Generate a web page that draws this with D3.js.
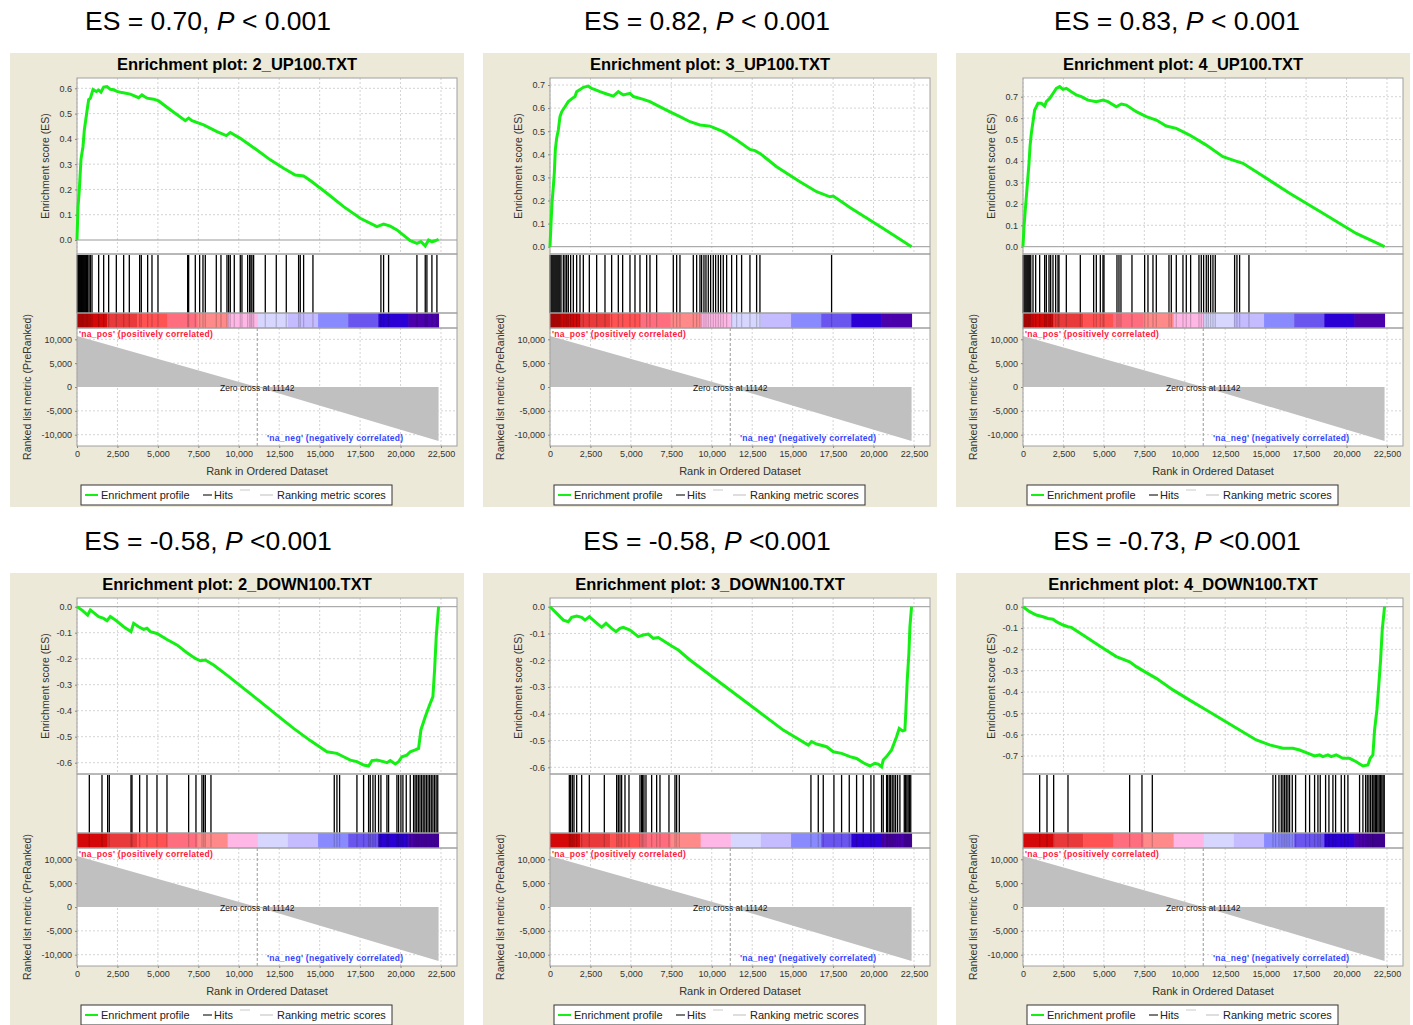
<!DOCTYPE html>
<html>
<head>
<meta charset="utf-8">
<script src="https://cdn.jsdelivr.net/npm/d3@7"></script>
<style>
  body { margin: 0; background: #fff; }
  text { font-family: "Liberation Sans", Arial, sans-serif; }
</style>
</head>
<body>
<script>
"use strict";

// ---- data ----
var headerEs = ["0.70", "0.82", "0.83", "-0.58", "-0.58", "-0.73"];
var headerP = ["< 0.001", "< 0.001", "< 0.001", "<0.001", "<0.001", "<0.001"];
var titles = ["2_UP100.TXT", "3_UP100.TXT", "4_UP100.TXT", "2_DOWN100.TXT", "3_DOWN100.TXT", "4_DOWN100.TXT"];

var esUp2 = [[0,0],[62,0.13],[144,0.20],[247,0.32],[371,0.37],[453,0.435],[618,0.51],[721,0.555],[824,0.56],[989,0.595],
  [1195,0.587],[1339,0.593],[1483,0.585],[1648,0.605],[1854,0.607],[2060,0.596],[2266,0.594],[2472,0.588],[2781,0.583],
  [3296,0.577],[3811,0.563],[4017,0.574],[4326,0.561],[4738,0.557],[5047,0.55],[5768,0.515],[6695,0.472],[6901,0.482],
  [7107,0.472],[7828,0.455],[8652,0.429],[9229,0.413],[9476,0.425],[10094,0.402],[11124,0.356],[11948,0.317],[12772,0.284],
  [13493,0.257],[14008,0.253],[14420,0.235],[15450,0.185],[16480,0.132],[17510,0.086],[18540,0.053],[18952,0.063],
  [19364,0.055],[19776,0.04],[20600,-0.003],[21012,-0.013],[21259,-0.006],[21527,-0.024],[21733,0.0],[21939,-0.007],
  [22145,-0.003],[22351,0.003]];
var esUp3 = [[0,0],[62,0.10],[124,0.19],[206,0.26],[268,0.32],[330,0.42],[412,0.47],[515,0.505],[618,0.563],[721,0.584],
  [927,0.606],[1133,0.628],[1339,0.64],[1545,0.65],[1648,0.671],[1854,0.68],[2060,0.69],[2369,0.695],[2575,0.685],
  [2781,0.68],[3090,0.671],[3502,0.661],[3914,0.652],[4223,0.671],[4532,0.657],[4944,0.664],[5150,0.65],[5768,0.638],
  [6180,0.628],[6592,0.613],[7416,0.584],[8034,0.563],[8652,0.541],[9270,0.527],[9888,0.522],[10712,0.498],[11536,0.462],
  [12360,0.421],[12669,0.416],[12978,0.404],[14008,0.346],[15450,0.281],[16480,0.238],[17304,0.216],[17510,0.219],
  [18540,0.17],[20600,0.079],[22351,0]];
var esUp4 = [[0,0],[62,0.093],[124,0.155],[206,0.233],[288,0.311],[371,0.389],[433,0.467],[515,0.529],[618,0.583],
  [721,0.638],[824,0.653],[927,0.669],[1133,0.669],[1339,0.656],[1442,0.677],[1648,0.692],[1854,0.715],[2060,0.739],
  [2266,0.747],[2472,0.734],[2678,0.739],[2987,0.723],[3296,0.708],[3605,0.70],[4017,0.684],[4532,0.677],[4944,0.684],
  [5253,0.677],[5768,0.653],[6077,0.666],[6386,0.661],[7004,0.63],[7622,0.607],[8240,0.591],[8858,0.563],[9476,0.552],
  [10300,0.521],[11330,0.474],[12360,0.42],[12978,0.404],[13596,0.389],[14420,0.35],[16480,0.249],[18540,0.156],
  [20600,0.062],[22351,0]];
var esDown2 = [[0,0],[309,-0.013],[659,-0.032],[824,-0.013],[1030,-0.023],[1339,-0.038],[1648,-0.045],[1854,-0.054],
  [2060,-0.038],[2369,-0.051],[2884,-0.077],[3337,-0.096],[3502,-0.064],[3811,-0.077],[4120,-0.087],[4326,-0.083],
  [4532,-0.096],[4944,-0.103],[5562,-0.126],[6180,-0.147],[6798,-0.177],[7313,-0.199],[7622,-0.208],[7931,-0.205],
  [8446,-0.224],[9270,-0.263],[10300,-0.314],[11330,-0.365],[12360,-0.417],[13390,-0.468],[14420,-0.515],[15450,-0.558],
  [16068,-0.564],[16480,-0.577],[16892,-0.59],[17304,-0.596],[17716,-0.609],[18025,-0.613],[18231,-0.592],[18540,-0.59],
  [18952,-0.596],[19158,-0.6],[19364,-0.592],[19673,-0.605],[19879,-0.596],[20085,-0.577],[20394,-0.571],[20600,-0.558],
  [20909,-0.551],[21115,-0.545],[21259,-0.474],[21527,-0.423],[21795,-0.378],[22001,-0.346],[22104,-0.244],
  [22207,-0.115],[22351,0]];
var esDown3 = [[0,0],[412,-0.025],[824,-0.05],[1133,-0.056],[1339,-0.04],[1648,-0.035],[1957,-0.04],[2163,-0.05],
  [2431,-0.037],[2781,-0.056],[3193,-0.077],[3461,-0.062],[3811,-0.081],[4079,-0.093],[4326,-0.081],[4532,-0.077],
  [4944,-0.087],[5459,-0.112],[5768,-0.106],[6077,-0.102],[6386,-0.118],[6695,-0.115],[7107,-0.131],[7519,-0.147],
  [7931,-0.162],[8652,-0.199],[10300,-0.274],[12360,-0.367],[14420,-0.461],[15965,-0.517],[16171,-0.504],[16480,-0.513],
  [17098,-0.523],[17510,-0.542],[18025,-0.548],[18540,-0.56],[18952,-0.567],[19364,-0.583],[19776,-0.595],[20085,-0.585],
  [20291,-0.588],[20497,-0.598],[20600,-0.573],[20806,-0.56],[21115,-0.535],[21424,-0.486],[21589,-0.455],[21795,-0.464],
  [21939,-0.461],[22001,-0.386],[22083,-0.274],[22186,-0.174],[22248,-0.075],[22351,0]];
var esDown4 = [[0,0],[412,-0.023],[824,-0.039],[1236,-0.047],[1545,-0.055],[1854,-0.059],[2060,-0.07],[2472,-0.086],
  [2781,-0.094],[2987,-0.097],[3708,-0.133],[4738,-0.184],[5768,-0.234],[6592,-0.258],[7004,-0.281],[7622,-0.309],
  [8240,-0.336],[9270,-0.39],[10300,-0.438],[11330,-0.484],[12360,-0.531],[13390,-0.578],[14420,-0.625],[15244,-0.648],
  [16068,-0.664],[16686,-0.664],[17098,-0.672],[17510,-0.684],[18025,-0.70],[18334,-0.695],[18540,-0.703],[18849,-0.695],
  [19055,-0.703],[19364,-0.695],[19776,-0.711],[20188,-0.711],[20600,-0.727],[21012,-0.747],[21321,-0.742],[21465,-0.711],
  [21630,-0.695],[21733,-0.578],[21877,-0.484],[22001,-0.359],[22104,-0.25],[22207,-0.109],[22351,0]];

var hitsUp2 = [21,82,144,206,268,330,391,453,536,597,659,742,824,927,1339,1648,1957,2431,2884,3234,3873,3976,4367,4635,
  5006,6839,6901,7313,7581,7787,7931,8611,8899,9270,9373,9476,9723,10094,10197,10547,10671,10753,10815,10918,11639,
  12319,12937,13699,13802,14008,14585,18787,18952,19261,21012,21527,21630,21939,22248];
var hitsUp3 = [10,70,130,190,250,310,370,430,490,550,610,680,824,927,1030,1133,1277,1442,1648,1854,2060,2431,2884,3399,
  3811,4223,4491,4944,5253,5562,5974,6180,6592,7622,7828,8034,8858,9064,9270,9373,9517,9641,9785,9929,10094,10238,10403,
  10547,10712,10918,11227,11536,11845,12360,12772,12978,17407];
var hitsUp4 = [10,60,120,180,240,300,360,420,480,618,783,1030,1339,1442,1607,1710,1854,2019,2163,2225,2678,3543,4367,
  4532,4779,4944,5006,5809,5933,6056,6736,7519,7725,8034,8240,9023,9167,9476,9888,10094,10362,10877,11021,11165,11330,
  11454,11598,11742,11886,13081,13225,13390,13967];
var hitsDown2 = [762,1545,1895,1998,3337,3399,3873,4326,4944,5562,6901,7354,7725,7828,7931,8281,15903,16068,16233,17304,
  17716,18025,18128,18293,18437,18643,18787,19158,19261,19776,19879,20023,20147,20353,20600,20806,20900,21000,21100,
  21200,21300,21400,21500,21600,21700,21800,21900,22000,22100,22200,22300];
var hitsDown3 = [1195,1277,1380,1483,1648,1957,2431,3358,4120,4223,4326,4429,4635,4882,5562,5665,5727,5809,5933,6283,
  6592,6798,7354,7725,7828,7993,16130,16583,16892,17551,18025,18499,18952,19364,19838,20023,20497,20600,20806,20868,
  20971,21053,21156,21259,21362,21486,21630,21900,21980,22060,22140,22220,22300];
var hitsDown4 = [1030,1483,1895,2781,6592,7354,7993,15450,15615,15821,15965,16068,16171,16274,16377,16480,16645,16851,
  17469,17716,18025,18231,18375,18705,18911,19158,19323,19673,19879,20085,20806,21012,21177,21280,21383,21486,21589,
  21630,21700,21780,21860,21940,22020,22100,22180,22260,22330];

var esTickMin = [0, 0, 0, -0.6, -0.6, -0.7];
var esTickMax = [0.6, 0.7, 0.7, 0, 0, 0];

var metricRanks = [0, 11142, 22350];
var metricValues = [10700, 0, -11300];
var zeroCross = 11142;
var rankTicks = [0, 2500, 5000, 7500, 10000, 12500, 15000, 17500, 20000, 22500];
var metricTicks = [10000, 5000, 0, -5000, -10000];
var heatColors = ["#d40808", "#e83a3a", "#ff5252", "#ff6e7e", "#ff8a8a", "#ffb8e6",
                  "#d6d6ff", "#c4bcff", "#8a8aff", "#6a55ee", "#2a00d4", "#4a00aa"];

var esSeries = [esUp2, esUp3, esUp4, esDown2, esDown3, esDown4];
var hitSeries = [hitsUp2, hitsUp3, hitsUp4, hitsDown2, hitsDown3, hitsDown4];

// ---- layout ----
var panelX = [10, 483, 956];
var panelY = [53, 573];
var headerCx = [208, 707, 1177];
var PW = 454, PH = 454;
var L = 67, R = 447;
var esTop = 25, esBot = 201, hitBot = 260, heatBot = 275, metBot = 393;

// pixel rows of the 0 tick and the outer tick in each ES panel
var esPx = [ [187, 35.3], [193.7, 32], [193.7, 43.7], [33.7, 189.7], [33.7, 194.3], [33.7, 183] ];

// plain hyphen instead of the unicode minus, like the java plot
function hy(f) { return function(d) { return f(d).replace("\u2212", "-"); }; }

var svg = d3.select("body").append("svg")
  .attr("width", 1413).attr("height", 1025);

var x = d3.scaleLinear().domain([0, 23490]).range([L, R]);
var yM = d3.scaleLinear().domain([-12370, 12370]).range([metBot, heatBot]);

for (var i = 0; i < 6; i++) {
  var col = i % 3, row = Math.floor(i / 3);
  var px = panelX[col], py = panelY[row];

  // header
  var ht = svg.append("text")
    .attr("x", headerCx[col]).attr("y", row === 0 ? 30 : 550)
    .attr("text-anchor", "middle")
    .style("font-size", "26.5px").style("fill", "#000");
  ht.append("tspan").text("ES = " + headerEs[i] + ", ");
  ht.append("tspan").style("font-style", "italic").text("P");
  ht.append("tspan").text(" " + headerP[i]);

  var g = svg.append("g").attr("transform", "translate(" + px + "," + py + ")");
  g.append("rect").attr("width", PW).attr("height", PH).attr("fill", "#ece9d8");

  g.append("text").attr("x", PW / 2).attr("y", 17).attr("text-anchor", "middle")
    .style("font-size", "16.5px").style("font-weight", "bold").text("Enrichment plot: " + titles[i]);

  // ES scale
  var p0 = esPx[i][0], p1 = esPx[i][1];
  var v1 = i < 3 ? esTickMax[i] : esTickMin[i];
  var yE = d3.scaleLinear().domain([0, v1]).range([p0, p1]);
  var esTicks = d3.range(Math.round(esTickMin[i] * 10), Math.round(esTickMax[i] * 10) + 1).map(function(k) { return k / 10; });

  g.append("rect").attr("x", L).attr("y", esTop).attr("width", R - L).attr("height", metBot - esTop).attr("fill", "#fff");

  // dashed grid
  var gridE = g.append("g").attr("stroke", "#d4d4d4").attr("stroke-dasharray", "2,2").attr("stroke-width", 1);
  rankTicks.forEach(function(t) {
    gridE.append("line").attr("x1", x(t)).attr("x2", x(t)).attr("y1", esTop).attr("y2", esBot);
    gridE.append("line").attr("x1", x(t)).attr("x2", x(t)).attr("y1", heatBot).attr("y2", metBot);
  });
  esTicks.forEach(function(t) {
    if (t !== 0) gridE.append("line").attr("x1", L).attr("x2", R).attr("y1", yE(t)).attr("y2", yE(t));
  });
  metricTicks.forEach(function(t) {
    if (t !== 0) gridE.append("line").attr("x1", L).attr("x2", R).attr("y1", yM(t)).attr("y2", yM(t));
  });

  // ranked metric area
  var metricPts = metricRanks.map(function(r, k) { return [r, metricValues[k]]; });
  g.append("path").datum(metricPts)
    .attr("fill", "#c0c0c0")
    .attr("d", d3.area().x(function(d) { return x(d[0]); }).y0(yM(0)).y1(function(d) { return yM(d[1]); }));

  g.append("line").attr("x1", L).attr("x2", R).attr("y1", yE(0)).attr("y2", yE(0)).attr("stroke", "#999");
  g.append("line").attr("x1", x(zeroCross)).attr("x2", x(zeroCross)).attr("y1", heatBot).attr("y2", metBot)
    .attr("stroke", "#999").attr("stroke-dasharray", "3,2");

  // heatmap
  var segW = (x(22350) - x(0)) / heatColors.length;
  g.selectAll("rect.heat").data(heatColors).enter().append("rect")
    .attr("x", function(d, k) { return x(0) + k * segW; })
    .attr("y", hitBot).attr("width", segW + 0.5).attr("height", heatBot - hitBot)
    .attr("fill", function(d) { return d; });

  // hits
  var hits = hitSeries[i];
  g.selectAll("line.hit").data(hits).enter().append("line")
    .attr("x1", function(d) { return x(d); }).attr("x2", function(d) { return x(d); })
    .attr("y1", esBot + 1).attr("y2", hitBot).attr("stroke", "#000").attr("stroke-width", 1.3);
  g.selectAll("line.hitheat").data(hits).enter().append("line")
    .attr("x1", function(d) { return x(d); }).attr("x2", function(d) { return x(d); })
    .attr("y1", hitBot).attr("y2", heatBot).attr("stroke", "#000").attr("stroke-opacity", 0.18).attr("stroke-width", 1.3);

  // borders
  [[esTop, esBot], [esBot, hitBot], [hitBot, heatBot], [heatBot, metBot]].forEach(function(b) {
    g.append("rect").attr("x", L).attr("y", b[0]).attr("width", R - L).attr("height", b[1] - b[0])
      .attr("fill", "none").attr("stroke", "#a0a0a0").attr("stroke-width", 1);
  });

  // ES curve
  g.append("path").datum(esSeries[i])
    .attr("fill", "none").attr("stroke", "#14f014").attr("stroke-width", 3)
    .attr("d", d3.line().x(function(d) { return x(d[0]); }).y(function(d) { return yE(d[1]); }));

  // axes
  var axE = g.append("g").attr("transform", "translate(" + L + ",0)")
    .call(d3.axisLeft(yE).tickValues(esTicks).tickFormat(hy(d3.format(".1f"))).tickSize(2).tickSizeOuter(0));
  var axM = g.append("g").attr("transform", "translate(" + L + ",0)")
    .call(d3.axisLeft(yM).tickValues(metricTicks).tickFormat(hy(d3.format(","))).tickSize(2).tickSizeOuter(0));
  var axX = g.append("g").attr("transform", "translate(0," + metBot + ")")
    .call(d3.axisBottom(x).tickValues(rankTicks).tickFormat(d3.format(",")).tickSize(2).tickSizeOuter(0));
  [axE, axM, axX].forEach(function(a) {
    a.select(".domain").remove();
    a.selectAll("line").attr("stroke", "#888");
    a.selectAll("text").style("font-size", "9px").style("fill", "#333")
      .style("font-family", "'Liberation Sans', Arial, sans-serif");
  });

  // annotations
  g.append("text").attr("x", L + 2).attr("y", 284).style("font-size", "8.5px").style("font-weight", "bold")
    .style("letter-spacing", "0.3px").style("fill", "#ff2040").text("'na_pos' (positively correlated)");
  g.append("text").attr("x", x(zeroCross)).attr("y", yM(0) + 4).attr("text-anchor", "middle")
    .style("font-size", "8.5px").style("fill", "#111").text("Zero cross at " + zeroCross);
  g.append("text").attr("x", 257).attr("y", 388).style("font-size", "8.5px").style("font-weight", "bold")
    .style("letter-spacing", "0.3px").style("fill", "#3344ff").text("'na_neg' (negatively correlated)");

  // axis titles
  g.append("text").attr("transform", "translate(39," + ((esTop + esBot) / 2) + ") rotate(-90)")
    .attr("text-anchor", "middle").style("font-size", "10.5px").style("fill", "#333").text("Enrichment score (ES)");
  g.append("text").attr("transform", "translate(21,334) rotate(-90)")
    .attr("text-anchor", "middle").style("font-size", "10.5px").style("fill", "#333").text("Ranked list metric (PreRanked)");
  g.append("text").attr("x", (L + R) / 2).attr("y", 422).attr("text-anchor", "middle")
    .style("font-size", "11px").style("fill", "#333").text("Rank in Ordered Dataset");

  // legend
  var lg = g.append("g").attr("transform", "translate(71,432)");
  lg.append("rect").attr("width", 311).attr("height", 20).attr("fill", "#fff").attr("stroke", "#333");
  lg.append("line").attr("x1", 4).attr("x2", 17).attr("y1", 10).attr("y2", 10).attr("stroke", "#14f014").attr("stroke-width", 2);
  lg.append("text").attr("x", 20).attr("y", 14).style("font-size", "11px").style("fill", "#222").text("Enrichment profile");
  lg.append("line").attr("x1", 122).attr("x2", 131).attr("y1", 10).attr("y2", 10).attr("stroke", "#222").attr("stroke-width", 1.2);
  lg.append("text").attr("x", 133).attr("y", 14).style("font-size", "11px").style("fill", "#222").text("Hits");
  lg.append("line").attr("x1", 159).attr("x2", 169).attr("y1", 5).attr("y2", 5).attr("stroke", "#ddd").attr("stroke-width", 1.5);
  lg.append("line").attr("x1", 179).attr("x2", 192).attr("y1", 10).attr("y2", 10).attr("stroke", "#c8c8c8").attr("stroke-width", 1.2);
  lg.append("text").attr("x", 196).attr("y", 14).style("font-size", "11px").style("fill", "#222").text("Ranking metric scores");
}
</script>
</body>
</html>
